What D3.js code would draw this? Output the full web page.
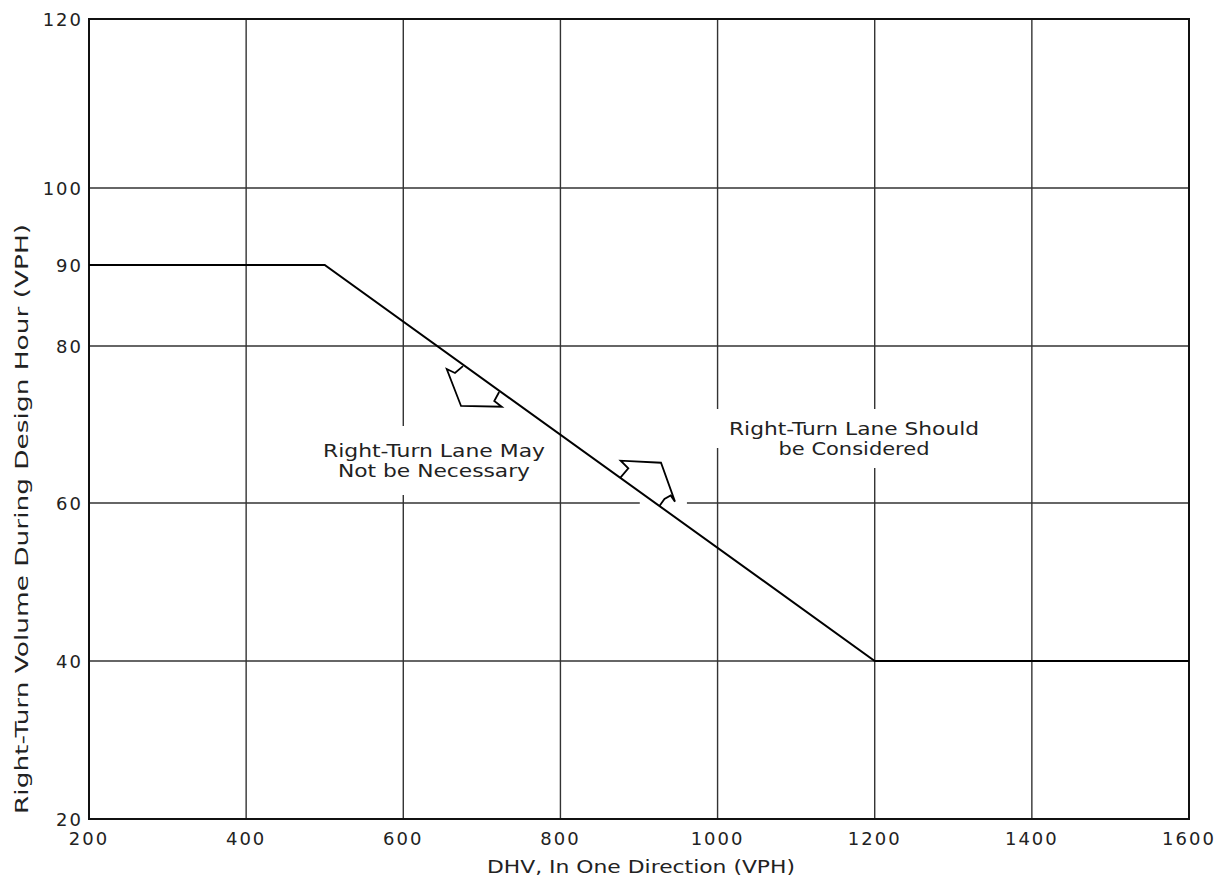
<!DOCTYPE html>
<html>
<head>
<meta charset="utf-8">
<script src="https://cdn.jsdelivr.net/npm/d3@7"></script>
<style>
  html, body { margin: 0; padding: 0; background: #fff; }
  svg text { font-family: "DejaVu Sans", sans-serif; fill: #222; }
</style>
</head>
<body>
<svg id="chart" width="1223" height="890"></svg>
<script>
// ---- data ----
const xTicks = [200, 400, 600, 800, 1000, 1200, 1400, 1600];
const yTicks = [20, 40, 60, 80, 90, 100, 120];
const xGrid = [400, 600, 800, 1000, 1200, 1400];
const yGrid = [40, 60, 80, 100];
const dhv = [200, 500, 1200, 1600];
const rightTurnVolume = [90, 90, 40, 40];
const xTitle = "DHV, In One Direction (VPH)";
const yTitle = "Right-Turn Volume During Design Hour (VPH)";
const noteLeft = ["Right-Turn Lane May", "Not be Necessary"];
const noteRight = ["Right-Turn Lane Should", "be Considered"];
// arrow outlines in data units [DHV, VPH]
const arrowDown = [[676, 77.43], [665.8, 76.56], [655.3, 77.07], [673.5, 72.36], [725.3, 72.27], [715.8, 72.99], [722, 74.14]];
const arrowUp = [[875.8, 63.16], [886.4, 64.42], [876.7, 65.39], [928, 65.13], [945.8, 60.17], [940.3, 60.96], [932.4, 60.51], [925.8, 59.59]];

// ---- layout ----
const svg = d3.select("#chart");
const x = d3.scaleLinear().domain([200, 1600]).range([89, 1189]);
const y = d3.scaleLinear().domain([20, 40, 60, 80, 90, 100, 120]).range([819, 661, 503, 346, 265, 188, 19]);

const gGrid = svg.append("g");
gGrid.selectAll("line.vx").data(xGrid).join("line")
  .attr("x1", d => x(d)).attr("x2", d => x(d))
  .attr("y1", y(20)).attr("y2", y(120))
  .attr("stroke", "#333").attr("stroke-width", 1.4);
gGrid.selectAll("line.hy").data(yGrid).join("line")
  .attr("x1", x(200)).attr("x2", x(1600))
  .attr("y1", d => y(d)).attr("y2", d => y(d))
  .attr("stroke", "#333").attr("stroke-width", 1.4);

// gap in the 60 gridline near the upward arrow
svg.append("line")
  .attr("x1", x(901)).attr("x2", x(961))
  .attr("y1", y(60)).attr("y2", y(60))
  .attr("stroke", "#fff").attr("stroke-width", 6);

// notes with white masks
function note(lines, widths, cx, baseline0, lineGap, padX, padY) {
  const g = svg.append("g");
  const masks = g.append("g");
  const texts = lines.map((t, i) => g.append("text")
    .attr("x", cx).attr("y", baseline0 + i * lineGap)
    .attr("text-anchor", "middle")
    .attr("font-size", 18)
    .attr("textLength", widths[i]).attr("lengthAdjust", "spacingAndGlyphs")
    .text(t));
  texts.forEach(t => {
    const b = t.node().getBBox();
    masks.append("rect")
      .attr("x", b.x - padX).attr("y", b.y - padY)
      .attr("width", b.width + 2 * padX).attr("height", b.height + 2 * padY)
      .attr("fill", "#fff");
  });
}
note(noteLeft, [222, 192], 434, 457, 20, 8, 14);
note(noteRight, [250, 151], 854, 435, 20, 14, 9);

// frame
svg.append("rect")
  .attr("x", x(200)).attr("y", y(120))
  .attr("width", x(1600) - x(200)).attr("height", y(20) - y(120))
  .attr("fill", "none").attr("stroke", "#111").attr("stroke-width", 2);

// data line
const line = d3.line().x(d => x(d[0])).y(d => y(d[1]));
svg.append("path")
  .datum(dhv.map((d, i) => [d, rightTurnVolume[i]]))
  .attr("d", line)
  .attr("fill", "none").attr("stroke", "#000").attr("stroke-width", 2);

// arrows
[arrowDown, arrowUp].forEach(a => {
  svg.append("path")
    .datum(a)
    .attr("d", d3.line().x(d => x(d[0])).y(d => y(d[1])))
    .attr("fill", "none").attr("stroke", "#000").attr("stroke-width", 1.8)
    .attr("stroke-linejoin", "miter");
});

// tick labels
svg.selectAll("text.xt").data(xTicks).join("text")
  .attr("x", d => x(d)).attr("y", 845)
  .attr("text-anchor", "middle").attr("font-size", 18).attr("letter-spacing", 2)
  .text(d => d);
svg.selectAll("text.yt").data(yTicks).join("text")
  .attr("x", 83).attr("y", d => y(d) + 7)
  .attr("text-anchor", "end").attr("font-size", 18).attr("letter-spacing", 2)
  .text(d => d);

// axis titles
svg.append("text")
  .attr("x", 641).attr("y", 873)
  .attr("text-anchor", "middle").attr("font-size", 18)
  .attr("textLength", 308).attr("lengthAdjust", "spacingAndGlyphs")
  .text(xTitle);
svg.append("text")
  .attr("transform", "translate(28,519) rotate(-90)")
  .attr("text-anchor", "middle").attr("font-size", 17)
  .attr("textLength", 590).attr("lengthAdjust", "spacingAndGlyphs")
  .text(yTitle);
</script>
</body>
</html>
